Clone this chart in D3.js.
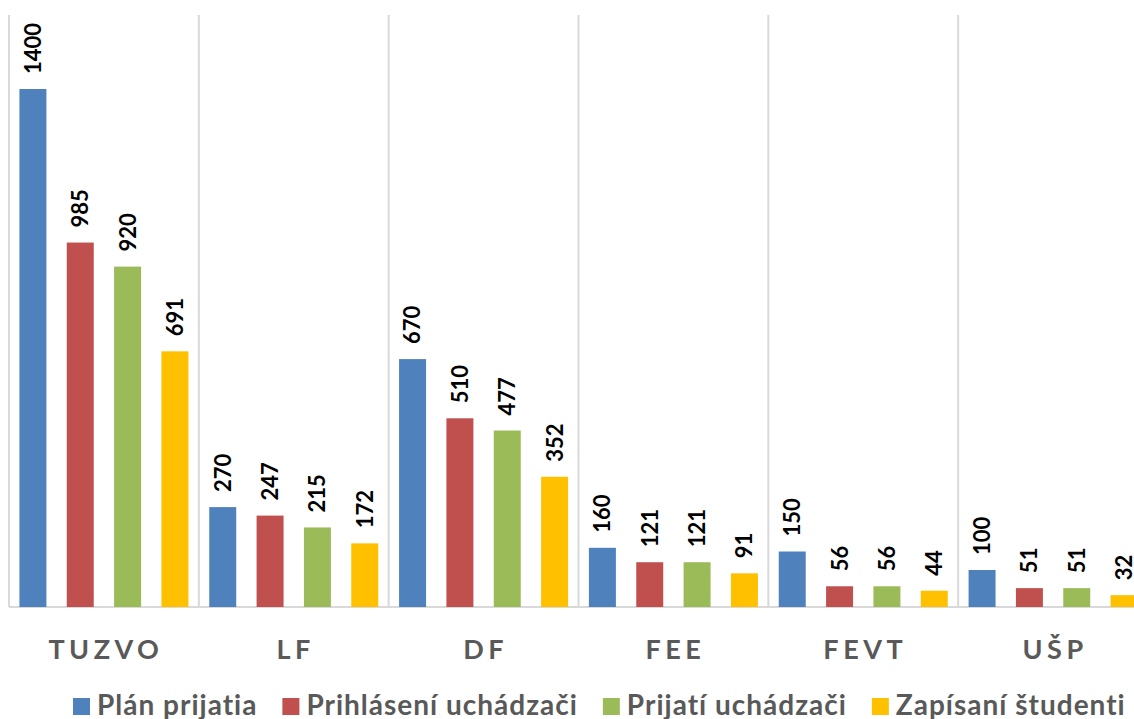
<!DOCTYPE html>
<meta charset="utf-8">
<style>
body { margin: 0; background: #fff; }
.grid line { stroke: #d9d9d9; stroke-width: 2px; }
.cat text { font-family: Lato, sans-serif; font-weight: bold; font-size: 27px; fill: #595959; letter-spacing: 4.5px; }
.lbl { font-family: Lato, sans-serif; font-weight: bold; font-size: 22px; fill: #000; }
.legend text { font-family: Lato, sans-serif; font-weight: bold; font-size: 28px; fill: #595959; letter-spacing: 1px; }
</style>
<svg width="1134" height="719"></svg>
<script src="https://cdn.jsdelivr.net/npm/d3@7"></script>
<script>

var categories = ["TUZVO", "LF", "DF", "FEE", "FEVT", "UŠP"];
var series = ["Plán prijatia", "Prihlásení uchádzači", "Prijatí uchádzači", "Zapísaní študenti"];
var colors = ["#4f81bd", "#c0504d", "#9bbb59", "#ffc000"];

var plan     = [1400, 270, 670, 160, 150, 100];
var prihlas  = [985, 247, 510, 121, 56, 51];
var prijati  = [920, 215, 477, 121, 56, 51];
var zapisani = [691, 172, 352, 91, 44, 32];
var values = [plan, prihlas, prijati, zapisani];

var svg = d3.select("svg");

var x0 = d3.scaleBand().domain(categories).range([9, 1148]);
var x1 = d3.scaleBand().domain(series).range([0, x0.bandwidth()])
    .paddingInner(0.43).paddingOuter(0.22);
var y = d3.scaleLinear().domain([0, 1600]).range([607, 15]);

// vertical separators between categories
var grid = svg.append("g").attr("class", "grid");
var seps = categories.map(function(c){ return x0(c); }).concat([x0.range()[1]]);
grid.selectAll("line.v")
  .data(seps)
  .enter().append("line")
  .attr("x1", function(d){ return d; })
  .attr("x2", function(d){ return d; })
  .attr("y1", y(1600))
  .attr("y2", y(0));
grid.append("line")
  .attr("x1", x0.range()[0]).attr("x2", x0.range()[1])
  .attr("y1", y(0)).attr("y2", y(0));

var rows = [];
categories.forEach(function(c, i){
  series.forEach(function(s, j){
    rows.push({cat: c, ser: s, v: values[j][i], color: colors[j]});
  });
});

svg.append("g").selectAll("rect")
  .data(rows)
  .enter().append("rect")
  .attr("x", function(d){ return x0(d.cat) + x1(d.ser); })
  .attr("y", function(d){ return y(d.v); })
  .attr("width", x1.bandwidth())
  .attr("height", function(d){ return y(0) - y(d.v); })
  .attr("fill", function(d){ return d.color; });

svg.append("g").selectAll("text")
  .data(rows)
  .enter().append("text")
  .attr("class", "lbl")
  .attr("transform", function(d){
    var cx = x0(d.cat) + x1(d.ser) + x1.bandwidth() / 2;
    return "translate(" + cx + "," + (y(d.v) - 15) + ") rotate(-90)";
  })
  .attr("dy", "0.36em")
  .text(function(d){ return d.v; });

// category labels
svg.append("g").attr("class", "cat").selectAll("text")
  .data(categories)
  .enter().append("text")
  .attr("x", function(d){ return x0(d) + x0.bandwidth() / 2 + 2; })
  .attr("y", 659)
  .attr("text-anchor", "middle")
  .text(function(d){ return d; });

// legend
var legend = svg.append("g").attr("class", "legend");
var items = legend.selectAll("g")
  .data(series)
  .enter().append("g");
items.append("rect")
  .attr("width", 17).attr("height", 17)
  .attr("y", 698)
  .attr("fill", function(d, i){ return colors[i]; });
items.append("text")
  .attr("x", 24)
  .attr("y", 715)
  .text(function(d){ return d; });

var lx = 73;
items.each(function(){
  var g = d3.select(this);
  g.attr("transform", "translate(" + lx + ",0)");
  var w = g.select("text").node().getComputedTextLength();
  lx += 24 + w + 25;
});

</script>
